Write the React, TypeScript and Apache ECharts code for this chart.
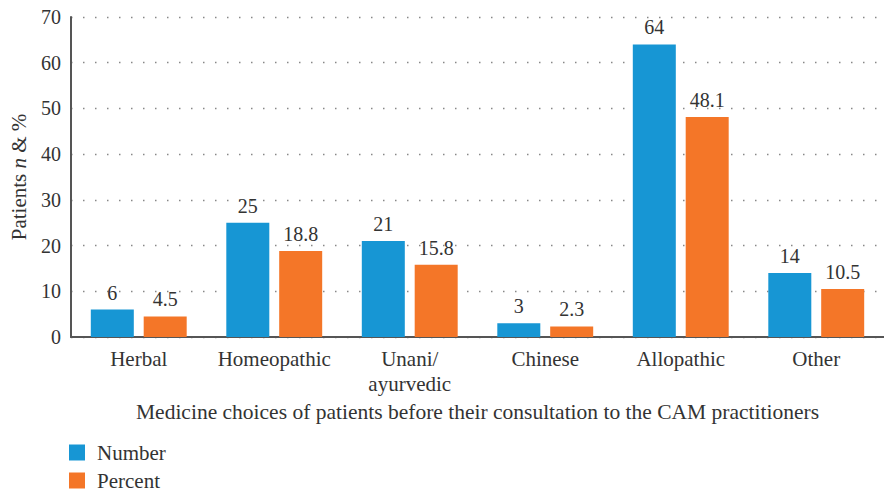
import React, { useEffect, useRef } from "react";
import * as echarts from "echarts";

const categories = ["Herbal", "Homeopathic", "Unani/\nayurvedic", "Chinese", "Allopathic", "Other"];
const numberValues = [6, 25, 21, 3, 64, 14];
const percentValues = [4.5, 18.8, 15.8, 2.3, 48.1, 10.5];
const seriesNames = ["Number", "Percent"];
const yTicks = { min: 0, max: 70, interval: 10 };

const FONT = "Liberation Serif";
const TEXT = "#333333";

export default function App() {
  const ref = useRef<HTMLDivElement>(null);
  useEffect(() => {
    if (!ref.current) return;
    const chart = echarts.init(ref.current, null, { renderer: "svg" });
    const label = {
      show: true,
      position: "top",
      distance: 7,
      color: TEXT,
      fontFamily: FONT,
      fontSize: 20,
    };
    const legendBase = {
      orient: "vertical",
      left: 69,
      padding: 0,
      itemWidth: 16,
      itemHeight: 16,
      icon: "rect",
      textStyle: {
        fontFamily: FONT,
        fontSize: 21,
        color: TEXT,
        padding: [0, 0, 0, 7],
      },
    };
    chart.setOption({
      animation: false,
      textStyle: { fontFamily: FONT, color: TEXT },
      grid: { left: 69, right: -13, top: 17, bottom: 156, containLabel: false },
      legend: [
        { ...legendBase, top: 442, data: [seriesNames[0]] },
        { ...legendBase, top: 470, data: [seriesNames[1]] },
      ],
      xAxis: {
        type: "category",
        data: categories,
        name: "Medicine choices of patients before their consultation to the CAM practitioners",
        nameLocation: "middle",
        nameGap: 63,
        nameTextStyle: { fontFamily: FONT, fontSize: 21.5, color: TEXT },
        axisLine: { show: true, lineStyle: { color: "#555555", width: 2 } },
        axisTick: { show: false },
        axisLabel: {
          interval: 0,
          fontFamily: FONT,
          fontSize: 21,
          color: TEXT,
          margin: 9,
          lineHeight: 25,
        },
      },
      yAxis: {
        type: "value",
        min: yTicks.min,
        max: yTicks.max,
        interval: yTicks.interval,
        name: "{a|Patients }{b|n}{a| & %}",
        nameLocation: "middle",
        nameGap: 42,
        nameRotate: 90,
        nameTextStyle: {
          rich: {
            a: { fontFamily: FONT, fontSize: 21, color: TEXT },
            b: { fontFamily: FONT, fontSize: 21, color: TEXT, fontStyle: "italic" },
          },
        },
        axisLine: { show: true, lineStyle: { color: "#555555", width: 2 } },
        axisTick: { show: false },
        axisLabel: { fontFamily: FONT, fontSize: 20, color: TEXT, margin: 10 },
        splitLine: {
          show: true,
          lineStyle: { color: "#888888", width: 1.3, type: [1.5, 10.5] },
        },
      },
      series: [
        {
          name: seriesNames[0],
          type: "bar",
          data: numberValues,
          barWidth: 43,
          barGap: "23%",
          itemStyle: { color: "#1796D4" },
          label,
        },
        {
          name: seriesNames[1],
          type: "bar",
          data: percentValues,
          barWidth: 43,
          itemStyle: { color: "#F47628" },
          label,
        },
      ],
    });
    return () => chart.dispose();
  }, []);
  return (
    <div
      ref={ref}
      style={{ position: "absolute", left: 0, top: 0, width: 884, height: 493, overflow: "hidden" }}
    />
  );
}
